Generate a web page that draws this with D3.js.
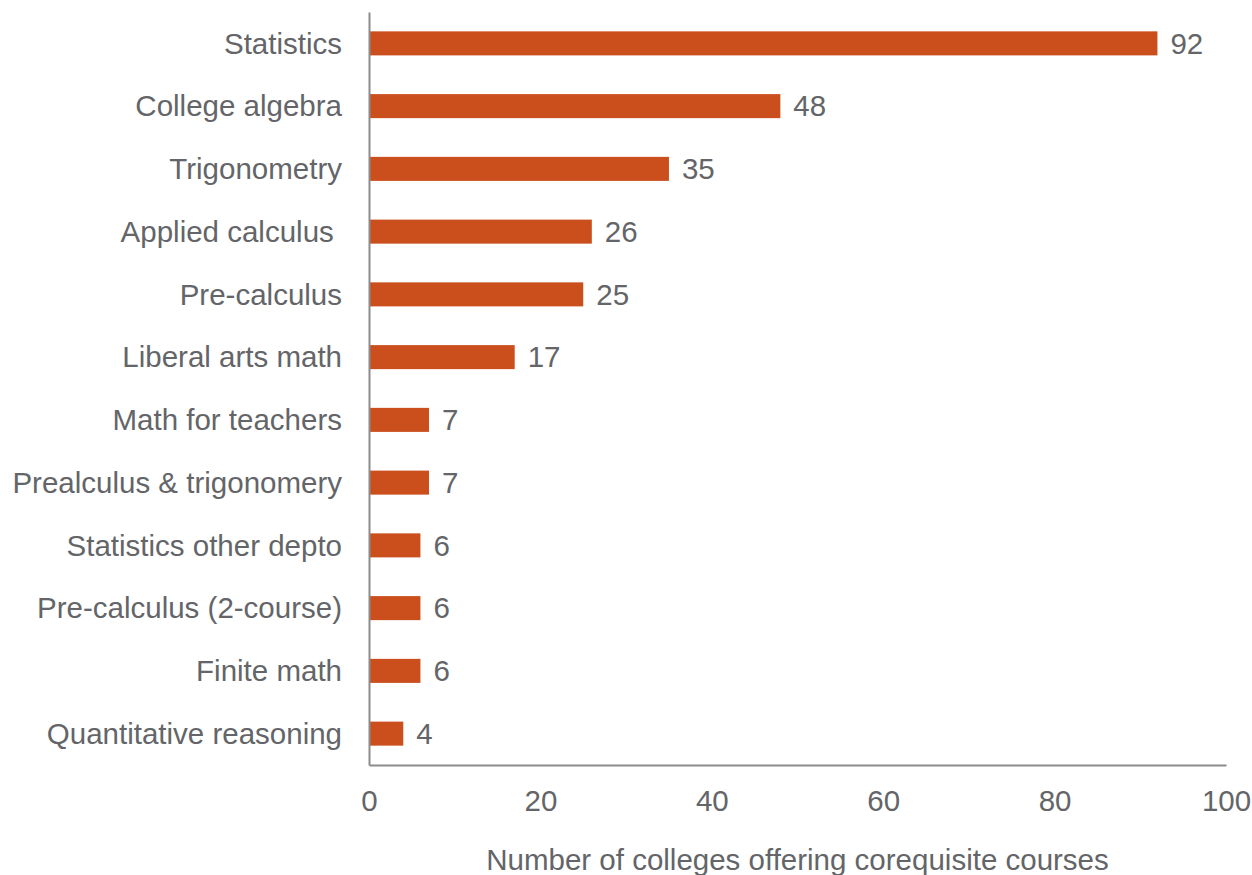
<!DOCTYPE html>
<html><head><meta charset="utf-8">
<script src="https://cdn.jsdelivr.net/npm/d3@7"></script>
<style>body{margin:0;background:#fff}svg{display:block}text{font-family:"Liberation Sans",Arial,sans-serif;white-space:pre}</style>
</head><body>
<svg id="c" width="1252" height="875"></svg>
<script>
const categories = ["Statistics","College algebra","Trigonometry","Applied calculus ","Pre-calculus","Liberal arts math","Math for teachers","Prealculus & trigonomery","Statistics other depto","Pre-calculus (2-course)","Finite math","Quantitative reasoning"];
const values = [92,48,35,26,25,17,7,7,6,6,6,4];
const xTicks = [0,20,40,60,80,100];
const xTitle = "Number of colleges offering corequisite courses";

(function(){
const svg = d3.select("#c");
const mLeft = 369, mRight = 1226, mTop = 12, mBottom = 765;
const x = d3.scaleLinear().domain([0,100]).range([mLeft,mRight]);
const pi = 0.617;
const y = d3.scaleBand().domain(categories).range([mTop,mBottom]).paddingInner(pi).paddingOuter(pi/2);
const textColor = "#636568", axisColor = "#8c8c8c", barColor = "#cb4f1c";
const fs = 29.5;

const data = categories.map((c,i)=>({c, v: values[i]}));

svg.selectAll("rect.bar").data(data).join("rect").attr("class","bar")
  .attr("x", x(0)).attr("y", d=>y(d.c)).attr("width", d=>x(d.v)-x(0)).attr("height", y.bandwidth())
  .attr("fill", barColor);

svg.selectAll("text.val").data(data).join("text").attr("class","val")
  .attr("x", d=>x(d.v)+13).attr("y", d=>y(d.c)+y.bandwidth()/2).attr("dy","0.35em")
  .attr("font-size", fs).attr("fill", textColor).text(d=>d.v);

svg.selectAll("text.cat").data(data).join("text").attr("class","cat")
  .attr("x", mLeft-27).attr("y", d=>y(d.c)+y.bandwidth()/2).attr("dy","0.35em")
  .attr("text-anchor","end").attr("font-size", fs).attr("fill", textColor).text(d=>d.c);

const xAxis = svg.append("g").attr("transform",`translate(0,${mBottom})`)
  .call(d3.axisBottom(x).tickValues(xTicks).tickSize(0).tickPadding(25).tickFormat(d3.format("d")));
xAxis.select(".domain").attr("stroke", axisColor).attr("stroke-width",2);
xAxis.selectAll("text").attr("font-size", fs).attr("fill", textColor).attr("font-family","Liberation Sans, Arial, sans-serif");

const yAxis = svg.append("g").attr("transform",`translate(${mLeft},0)`)
  .call(d3.axisLeft(y).tickSize(0).tickFormat(""));
yAxis.select(".domain").attr("stroke", axisColor).attr("stroke-width",2);

svg.append("text").attr("x",(mLeft+mRight)/2).attr("y",870).attr("text-anchor","middle")
  .attr("font-size", fs).attr("fill", textColor).text(xTitle);
})();
</script>
</body></html>
